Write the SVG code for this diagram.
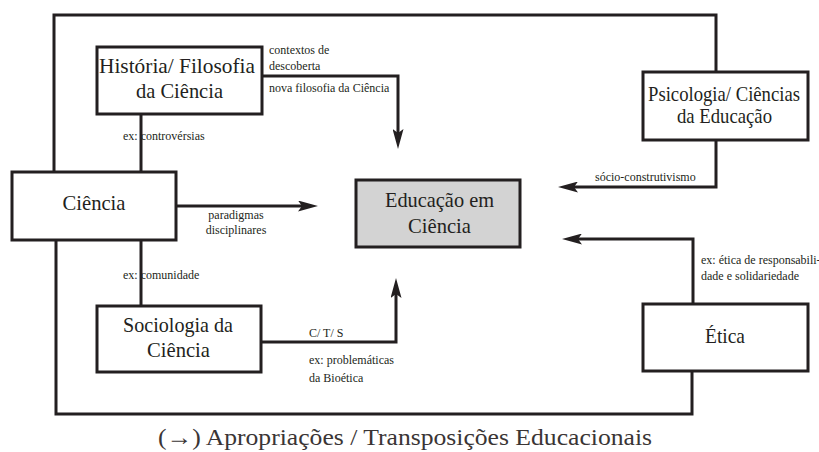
<svg xmlns="http://www.w3.org/2000/svg" width="819" height="452" viewBox="0 0 819 452">
<style>
.box{fill:#fff;stroke:#231f20;stroke-width:3}
.edu{fill:#d3d3d3;stroke:#231f20;stroke-width:3}
.node{font-size:21px;fill:#231f20;text-anchor:middle}
.lbl{font-size:12px;fill:#231f20}
.ln{fill:none;stroke:#231f20;stroke-width:3}
.cap{font-size:24px;fill:#3a3535;text-anchor:middle}
text{font-family:'Liberation Serif','DejaVu Serif',Times,serif}
</style>
<defs>
<marker id="ah" markerUnits="userSpaceOnUse" viewBox="0 0 20 11" refX="12" refY="5.5" markerWidth="20" markerHeight="11" orient="auto">
<path d="M0,0 L20,5.5 L0,11 L4,5.5 z" fill="#231f20"/>
</marker>
</defs>
<rect width="819" height="452" fill="#fff"/>
<g id="labels">
<text class="lbl" x="269" y="54">contextos de</text>
<text class="lbl" x="269" y="70">descoberta</text>
<text class="lbl" x="269" y="92">nova filosofia da Ciência</text>
<text class="lbl" x="123" y="140">ex: controvérsias</text>
<text class="lbl" x="236" y="219" text-anchor="middle">paradigmas</text>
<text class="lbl" x="236" y="234" text-anchor="middle">disciplinares</text>
<text class="lbl" x="123" y="279">ex: comunidade</text>
<text class="lbl" x="595" y="181">sócio-construtivismo</text>
<text class="lbl" x="701" y="264">ex: ética de responsabili-</text>
<text class="lbl" x="701" y="280">dade e solidariedade</text>
<text class="lbl" x="309" y="337">C/ T/ S</text>
<text class="lbl" x="309" y="364">ex: problemáticas</text>
<text class="lbl" x="309" y="382">da Bioética</text>
</g>
<g id="connectors">
<polyline class="ln" points="54,172 54,15 716,15 716,72"/>
<polyline class="ln" points="56,240 56,414 692,414 692,371"/>
<line class="ln" x1="141" y1="114" x2="141" y2="172"/>
<line class="ln" x1="141" y1="240" x2="141" y2="306"/>
<polyline class="ln" points="262,76 398,76 398,141" marker-end="url(#ah)"/>
<polyline class="ln" points="716,140 716,187 566,187" marker-end="url(#ah)"/>
<line class="ln" x1="176" y1="206" x2="310" y2="206" marker-end="url(#ah)"/>
<polyline class="ln" points="693,304 693,239 570,239" marker-end="url(#ah)"/>
<polyline class="ln" points="261,342 396,342 396,286" marker-end="url(#ah)"/>
</g>
<g id="historia">
<rect class="box" x="97" y="47" width="165" height="67"/>
<text class="node" x="177" y="73" textLength="156" lengthAdjust="spacingAndGlyphs">História/ Filosofia</text>
<text class="node" x="179.5" y="98" textLength="87" lengthAdjust="spacingAndGlyphs">da Ciência</text>
</g>
<g id="psicologia">
<rect class="box" x="643" y="72" width="165" height="68"/>
<text class="node" x="724" y="101" textLength="152" lengthAdjust="spacingAndGlyphs">Psicologia/ Ciências</text>
<text class="node" x="724.5" y="123" textLength="95" lengthAdjust="spacingAndGlyphs">da Educação</text>
</g>
<g id="ciencia">
<rect class="box" x="12" y="172" width="164" height="68"/>
<text class="node" x="94" y="210" textLength="63" lengthAdjust="spacingAndGlyphs">Ciência</text>
</g>
<g id="educacao">
<rect class="edu" x="356" y="180" width="164" height="67"/>
<text class="node" x="439.5" y="207" textLength="109" lengthAdjust="spacingAndGlyphs">Educação em</text>
<text class="node" x="439.5" y="233" textLength="63" lengthAdjust="spacingAndGlyphs">Ciência</text>
</g>
<g id="sociologia">
<rect class="box" x="97" y="306" width="164" height="66"/>
<text class="node" x="178" y="332" textLength="110" lengthAdjust="spacingAndGlyphs">Sociologia da</text>
<text class="node" x="178.5" y="357" textLength="63" lengthAdjust="spacingAndGlyphs">Ciência</text>
</g>
<g id="etica">
<rect class="box" x="643" y="304" width="165" height="67"/>
<text class="node" x="725" y="343" textLength="40" lengthAdjust="spacingAndGlyphs">Ética</text>
</g>
<text class="cap" x="405" y="445" textLength="494" lengthAdjust="spacingAndGlyphs">(→) Apropriações / Transposições Educacionais</text>
</svg>
